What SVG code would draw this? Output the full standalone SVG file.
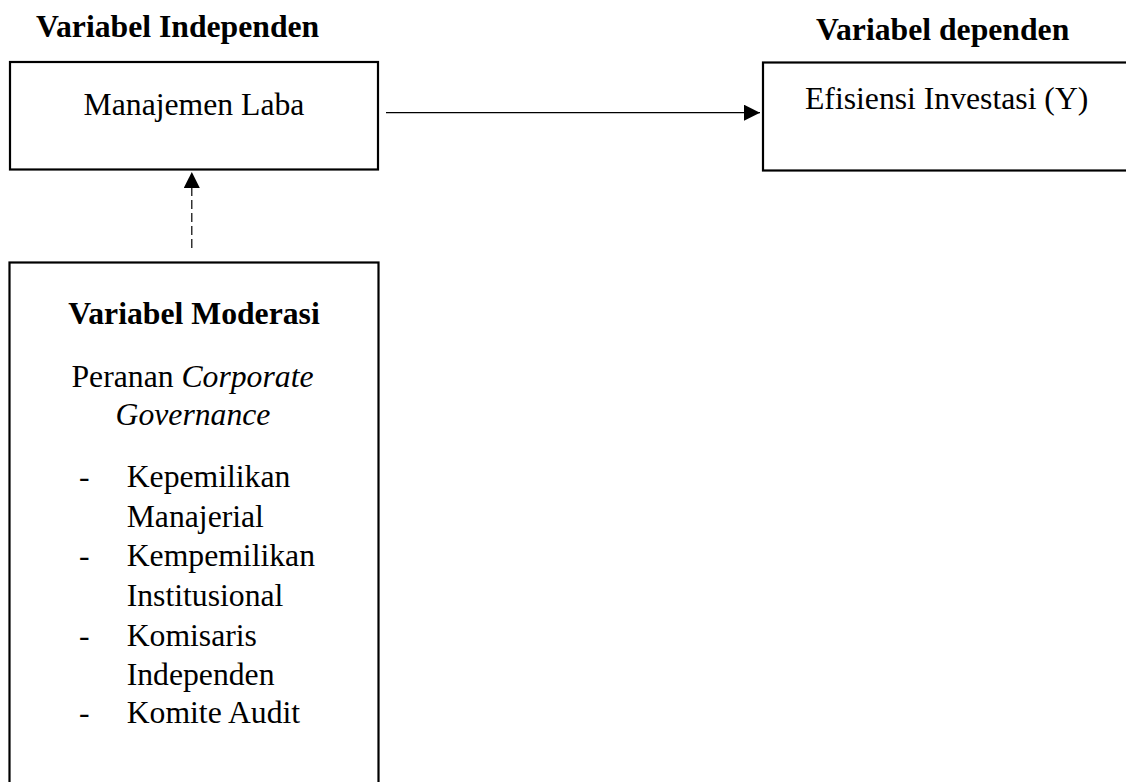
<svg xmlns="http://www.w3.org/2000/svg" width="1126" height="782" viewBox="0 0 1126 782">
  <style>
    text { font-family: "Liberation Serif", "Times New Roman", serif; font-size: 31.7px; fill: #000; }
    .b { font-weight: bold; }
    .i { font-style: italic; }
    .box { fill: #fff; stroke: #000; stroke-width: 2.2; }
    .conn { stroke: #000; stroke-width: 1.2; fill: none; }
  </style>
  <defs>
    <marker id="arr" markerWidth="16" markerHeight="16" refX="16" refY="8" orient="auto" markerUnits="userSpaceOnUse">
      <path d="M0,0 L16,8 L0,16 Z" fill="#000"/>
    </marker>
  </defs>
  <rect width="1126" height="782" fill="#fff"/>

  <g id="title-independen">
    <text class="b" x="36" y="36.5">Variabel Independen</text>
  </g>
  <g id="title-dependen">
    <text class="b" x="816" y="39.5">Variabel dependen</text>
  </g>

  <g id="node-manajemen-laba">
    <rect class="box" x="10" y="62" width="368" height="107.5"/>
    <text x="194" y="114.5" text-anchor="middle">Manajemen Laba</text>
  </g>

  <g id="node-efisiensi">
    <rect class="box" x="763" y="62.5" width="380" height="108"/>
    <text x="805" y="108.5">Efisiensi Investasi (Y)</text>
  </g>

  <g id="node-moderasi">
    <rect class="box" x="9.5" y="262.5" width="369" height="540"/>
    <text class="b" x="194" y="324" text-anchor="middle">Variabel Moderasi</text>
    <text x="192.5" y="386.5" text-anchor="middle">Peranan <tspan class="i">Corporate</tspan></text>
    <text class="i" x="193" y="425" text-anchor="middle">Governance</text>
    <text x="79" y="486.7">-</text>
    <text x="126.7" y="486.7">Kepemilikan</text>
    <text x="126.7" y="526.7">Manajerial</text>
    <text x="79" y="565.7">-</text>
    <text x="126.7" y="565.7">Kempemilikan</text>
    <text x="126.7" y="605.7">Institusional</text>
    <text x="79" y="645.7">-</text>
    <text x="126.7" y="645.7">Komisaris</text>
    <text x="126.7" y="685">Independen</text>
    <text x="79" y="723.3">-</text>
    <text x="126.7" y="723.3">Komite Audit</text>
  </g>

  <g id="connectors">
    <line class="conn" x1="386" y1="112.7" x2="760" y2="112.7" marker-end="url(#arr)"/>
    <line class="conn" x1="191.8" y1="248" x2="191.8" y2="172" stroke-dasharray="9 4" marker-end="url(#arr)"/>
  </g>
</svg>
